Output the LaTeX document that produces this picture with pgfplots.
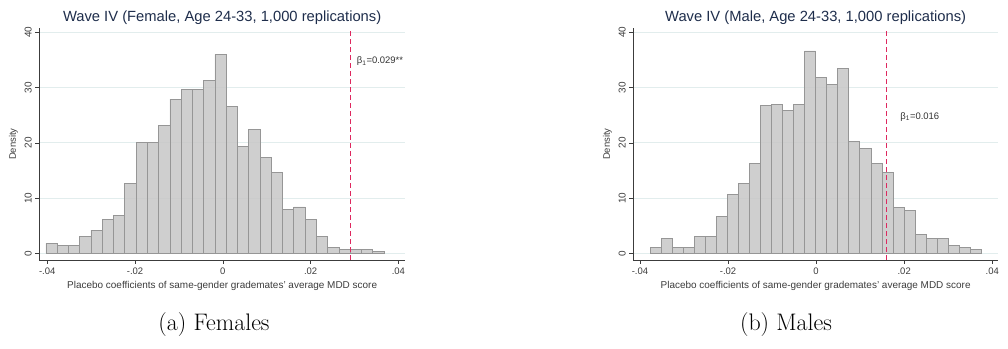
\documentclass[border=0pt]{standalone}
\usepackage{fontspec}
\setmainfont{Liberation Sans}
\newfontfamily\capfont{Latin Modern Roman}
\usepackage{pgfplots}
\usepackage{pgfplotstable}
\pgfplotsset{compat=1.18}
\definecolor{titlec}{RGB}{30,45,75}
\definecolor{barfill}{RGB}{200,200,200}
\definecolor{baredge}{RGB}{150,150,150}
\definecolor{gridc}{RGB}{226,237,237}
\definecolor{vline}{RGB}{222,40,95}
\definecolor{axisc}{RGB}{60,60,60}

\pgfplotstableread{
x y
-0.04030 1.8
-0.03773 1.4
-0.03517 1.4
-0.03260 3.0
-0.03003 4.2
-0.02747 6.1
-0.02490 6.8
-0.02233 12.7
-0.01976 20.0
-0.01720 20.0
-0.01463 23.2
-0.01206 27.9
-0.00950 29.7
-0.00693 29.7
-0.00436 31.3
-0.00180 36.0
0.00077 26.6
0.00334 19.3
0.00591 22.4
0.00847 17.4
0.01104 14.7
0.01361 8.0
0.01617 8.4
0.01874 6.1
0.02131 3.0
0.02387 1.1
0.02644 0.7
0.02901 0.7
0.03157 0.7
0.03414 0.3
0.03671 0.3
}\female

\pgfplotstableread{
x y
-0.03758 1.1
-0.03508 2.7
-0.03258 1.1
-0.03008 1.1
-0.02758 3.1
-0.02508 3.1
-0.02258 6.7
-0.02008 10.7
-0.01758 12.7
-0.01508 16.2
-0.01258 26.7
-0.01008 27.0
-0.00758 25.8
-0.00508 27.0
-0.00258 36.6
-0.00008 31.8
0.00242 30.6
0.00492 33.4
0.00742 20.2
0.00992 19.0
0.01242 16.2
0.01492 14.7
0.01742 8.3
0.01992 7.8
0.02242 3.4
0.02492 2.7
0.02742 2.7
0.02992 1.4
0.03242 1.1
0.03492 0.7
0.03742 0.7
}\male

\pgfplotsset{
 stata/.style={
  scale only axis, height=231.7bp,
  axis lines*=left, axis line style={axisc, line width=0.6pt, -},
  ymin=-1.2, ymax=40.7,
  scaled x ticks=false, scaled y ticks=false,
  /pgf/number format/assume math mode=true,
  xtick={-0.04,-0.02,0,0.02,0.04}, xticklabels={-.04,-.02,0,.02,.04},
  ytick={0,10,20,30,40}, yticklabels={0,10,20,30,40},
  tick align=outside, major tick length=4bp, tick style={axisc, line width=0.5pt},
  ymajorgrids, grid style={gridc, line width=0.7pt},
  yticklabel style={rotate=90, anchor=south, font=\fontsize{10}{11}\selectfont, text=axisc},
  xticklabel style={font=\fontsize{9.5}{10}\selectfont, text=axisc},
  ylabel={Density}, ylabel style={font=\fontsize{9.5}{10}\selectfont, text=axisc},
  xlabel={Placebo coefficients of same-gender grademates' average MDD score},
  xlabel style={font=\fontsize{10}{11}\selectfont, text=axisc, yshift=0bp},
  title style={font=\fontsize{14.8}{16}\selectfont, text=titlec, at={(0.5,1)}, anchor=south, yshift=-6bp},
 },
 bars/.style={ybar interval, fill=barfill, draw=baredge, fill opacity=0.88, line width=0.6pt},
 vl/.style={vline, line width=0.8pt, dash pattern=on 5bp off 3bp},
}

\begin{document}
\begin{tikzpicture}
\useasboundingbox (0,0) rectangle (1008bp,349bp);
\begin{axis}[stata, at={(39.3bp,89bp)}, anchor=south west, width=365.7bp,
  xmin=-0.0418, xmax=0.0415,
  title={Wave IV (Female, Age 24-33, 1,000 replications)}]
\addplot[bars] table[x=x,y=y] {\female};
\addplot[vl] coordinates {(0.029,-1.2) (0.029,40.7)};
\node[anchor=west, font=\fontsize{9.5}{10}\selectfont, text=black!80, inner sep=0pt] at (axis cs:0.0305,34.7) {β\textsubscript{1}=0.029**};
\end{axis}
\begin{axis}[stata, at={(633.3bp,89bp)}, anchor=south west, width=364.7bp,
  xmin=-0.0415, xmax=0.0413,
  title={Wave IV (Male, Age 24-33, 1,000 replications)}]
\addplot[bars] table[x=x,y=y] {\male};
\addplot[vl] coordinates {(0.016,-1.2) (0.016,40.7)};
\node[anchor=west, font=\fontsize{9.5}{10}\selectfont, text=black!80, inner sep=0pt] at (axis cs:0.0191,24.7) {β\textsubscript{1}=0.016};
\end{axis}
\node[font=\capfont\fontsize{24}{26}\selectfont] at (214bp,24bp) {(a) Females};
\node[font=\capfont\fontsize{24}{26}\selectfont] at (786bp,24bp) {(b) Males};
\end{tikzpicture}
\end{document}
